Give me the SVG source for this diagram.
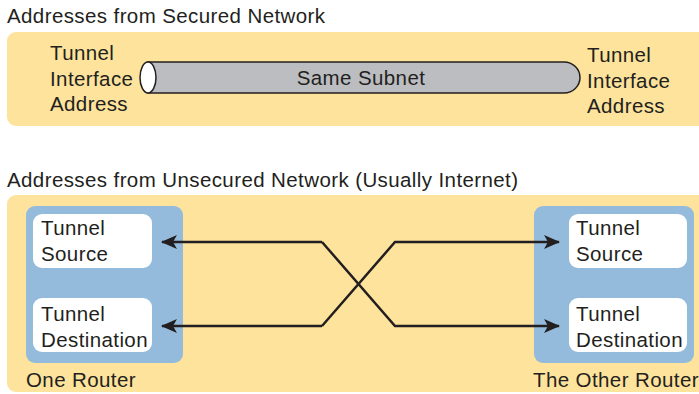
<svg xmlns="http://www.w3.org/2000/svg" width="699" height="394" viewBox="0 0 699 394">
<style>
text{font-family:"Liberation Sans",Arial,sans-serif;font-size:20.5px;fill:#231f20;letter-spacing:0.4px}
.zone{fill:#fde39b}
.router{fill:#94bbdc}
.box{fill:#ffffff}
.wire{fill:none;stroke:#231f20;stroke-width:2.5;stroke-linejoin:miter}
</style>
<defs>
<marker id="ah" viewBox="0 0 16 14" refX="15" refY="7" markerWidth="16" markerHeight="14" markerUnits="userSpaceOnUse" orient="auto">
<path d="M0,0 L16,7 L0,14 L4,7 Z" fill="#231f20"/>
</marker>
</defs>
<g id="secured">
<text x="7" y="23">Addresses from Secured Network</text>
<rect class="zone" x="7" y="32" width="710" height="94" rx="9"/>
<text x="50" y="60">Tunnel</text>
<text x="50" y="86">Interface</text>
<text x="50" y="111">Address</text>
<text x="587" y="62">Tunnel</text>
<text x="587" y="88">Interface</text>
<text x="587" y="113">Address</text>
</g>
<g id="tube">
<path d="M148,62 L564,62 A16,15.5 0 0 1 564,93 L148,93 Z" fill="#bcbdc0" stroke="#231f20" stroke-width="1.5"/>
<ellipse cx="148" cy="77.5" rx="8" ry="15.5" fill="#ffffff" stroke="#231f20" stroke-width="1.5"/>
<text x="361" y="85" text-anchor="middle">Same Subnet</text>
</g>
<g id="unsecured">
<text x="7" y="187">Addresses from Unsecured Network (Usually Internet)</text>
<rect class="zone" x="7" y="195" width="710" height="197" rx="9"/>
</g>
<g id="one-router">
<rect class="router" x="26" y="206" width="157" height="157" rx="9"/>
<text x="26" y="387">One Router</text>
</g>
<g id="one-source">
<rect class="box" x="33" y="214" width="119" height="54" rx="9"/>
<text x="41" y="235">Tunnel</text>
<text x="41" y="261">Source</text>
</g>
<g id="one-destination">
<rect class="box" x="33" y="298" width="119" height="54" rx="9"/>
<text x="41" y="321">Tunnel</text>
<text x="41" y="347">Destination</text>
</g>
<g id="other-router">
<rect class="router" x="534" y="206" width="160" height="157" rx="9"/>
<text x="533" y="387">The Other Router</text>
</g>
<g id="other-source">
<rect class="box" x="569" y="214" width="118" height="54" rx="9"/>
<text x="576" y="235">Tunnel</text>
<text x="576" y="261">Source</text>
</g>
<g id="other-destination">
<rect class="box" x="569" y="298" width="118" height="54" rx="9"/>
<text x="576" y="321">Tunnel</text>
<text x="576" y="347">Destination</text>
</g>
<g id="connectors">
<path class="wire" d="M322,242 L162,242" marker-end="url(#ah)"/>
<path class="wire" d="M322,242 L395,326 L559,326" marker-end="url(#ah)"/>
<path class="wire" d="M322,326 L162,326" marker-end="url(#ah)"/>
<path class="wire" d="M322,326 L395,242 L559,242" marker-end="url(#ah)"/>
</g>
</svg>
